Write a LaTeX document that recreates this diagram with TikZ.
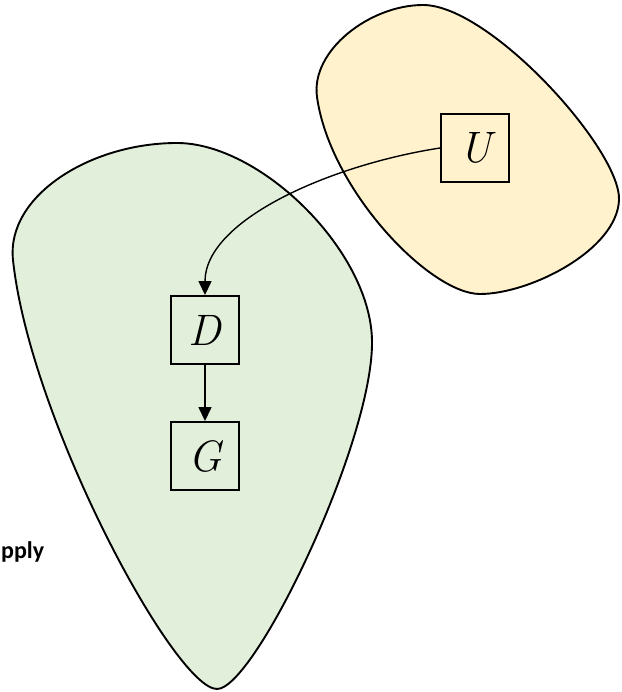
\documentclass[tikz,border=0pt]{standalone}
\usepackage{fontspec}
\newfontfamily\labelfont{Carlito}
\usetikzlibrary{arrows.meta}
\definecolor{blobgreen}{HTML}{E2EFDA}
\definecolor{blobyellow}{HTML}{FFF2CC}
\tikzset{
  blob/.style={draw=black, line width=1.9pt, line join=round},
  varbox/.style={draw=black, line width=1.9pt, minimum size=68pt, inner sep=0pt,
    font=\fontsize{44}{50}\selectfont\itshape},
  link/.style={draw=black, line width=1.4pt, -{Triangle[width=13pt,length=14pt]}}
}
\begin{document}
\begin{tikzpicture}[x=1pt,y=-1pt]
\useasboundingbox (0,0) rectangle (621,692);
% green region
\path[blob, fill=blobgreen] (177,143)
  .. controls (260,143) and (370,250) .. (372,340)
  .. controls (374,440) and (255,689) .. (217,689)
  .. controls (175,689) and (30,420) .. (13,260)
  .. controls (6,196) and (90,143) .. cycle;
% yellow region
\path[blob, fill=blobyellow] (423,5)
  .. controls (490,5) and (621,150) .. (619,200)
  .. controls (617,250) and (530,294) .. (480,294)
  .. controls (430,294) and (330,190) .. (317,97)
  .. controls (310.5,50.5) and (370,5) .. cycle;
\node[varbox] (U) at (475,148) {U};
\node[varbox] (D) at (205,330) {D};
\node[varbox] (G) at (205,456) {G};
\node[anchor=west, font=\labelfont\bfseries\fontsize{24}{28}\selectfont, inner sep=0pt] (lbl) at (1,552) {pply};
\draw[link] (U.west) .. controls (330,165) and (205,220) .. (D.north);
\draw[link] (D.south) -- (G.north);
\end{tikzpicture}
\end{document}
